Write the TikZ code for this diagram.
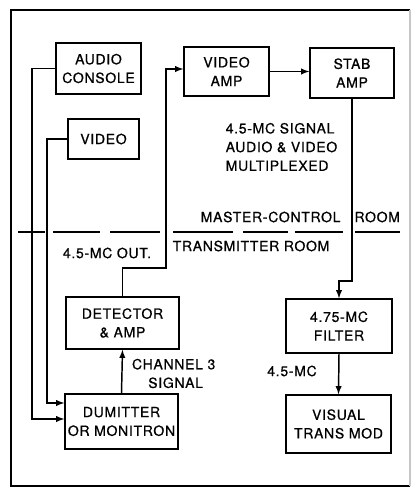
\documentclass[tikz,border=0pt]{standalone}
\usepackage{fontspec}
\setmainfont{TeX Gyre Heros}[LetterSpace=5, FakeBold=0.7]
\begin{document}
\begin{tikzpicture}[x=0.75pt, y=-0.75pt, line width=1.1pt,
    block/.style={draw, align=center, inner sep=0pt, font=\fontsize{10.5}{14}\selectfont},
    lbl/.style={inner sep=0pt, font=\fontsize{10.5}{14}\selectfont}]
                    \useasboundingbox (0,0) rectangle (413,490);
                    % Frame
                    \draw (410,10) -- (11,10) -- (11,486) -- (410,486);
                    \draw[gray!45] (410,10) -- (410,486);
                    % Nodes
                    \node[block, minimum width=63.75pt, minimum height=38.25pt] (audio) at (98.5,68.5) {AUDIO\\CONSOLE};
                    \node[block, minimum width=53.25pt, minimum height=30pt] (video) at (103.5,139) {VIDEO};
                    \node[block, minimum width=63.75pt, minimum height=36.75pt] (vamp) at (226.5,71.5) {VIDEO\\AMP};
                    \node[block, minimum width=63pt, minimum height=37.5pt] (stab) at (352,73) {STAB\\AMP};
                    \node[block, minimum width=84.75pt, minimum height=39pt] (det) at (122.5,323) {DETECTOR\\\& AMP};
                    \node[block, minimum width=84.75pt, minimum height=41.25pt] (dum) at (121.5,421.5) {DUMITTER\\OR MONITRON};
                    \node[block, minimum width=79.5pt, minimum height=40.5pt] (filter) at (339,326) {4.75-MC\\FILTER};
                    \node[block, minimum width=78.75pt, minimum height=43.5pt] (visual) at (338.5,424) {VISUAL\\TRANS MOD};
                    % Labels
                    \node[lbl, anchor=west, align=left] (mux) at (225,147) {4.5-MC SIGNAL\\AUDIO \& VIDEO\\MULTIPLEXED};
                    \node[lbl, anchor=west] (master) at (200,217) {MASTER-CONTROL\quad ROOM};
                    \node[lbl, anchor=west] (trans) at (172,246) {TRANSMITTER ROOM};
                    \node[lbl] (out) at (107,253) {4.5-MC OUT.};
                    \node[lbl, align=right] (chan) at (167.5,373.5) {CHANNEL\rlap{\ 3}\\SIGNAL};
                    \node[lbl] (mc) at (292,371) {4.5-MC};
                    % Room border
                    \foreach \a/\b in {18/45, 53/100, 110/160, 173/233, 243/288, 295/343, 355/400}
                        \draw[line width=0.9pt] (\a,232) -- (\b,232);
                    % Edges
                    \draw[-latex] (audio.west) -| (32,419) -- (dum.west |- 0,419);
                    \draw[-latex] (video.west) -| (47,403) -- (dum.west |- 0,403);
                    \draw[-latex] (dum.north) -- (det.south);
                    \draw[-latex] (det.north) |- (166,268) |- (vamp.west |- 0,69);
                    \draw[-latex] (vamp.east) -- (stab.west |- vamp.east);
                    \draw[-latex] (stab.south) -- (stab.south |- 0,281) -| (filter.north);
                    \draw[-latex] (filter.south) -- (visual.north);
                \end{tikzpicture}
\end{document}
